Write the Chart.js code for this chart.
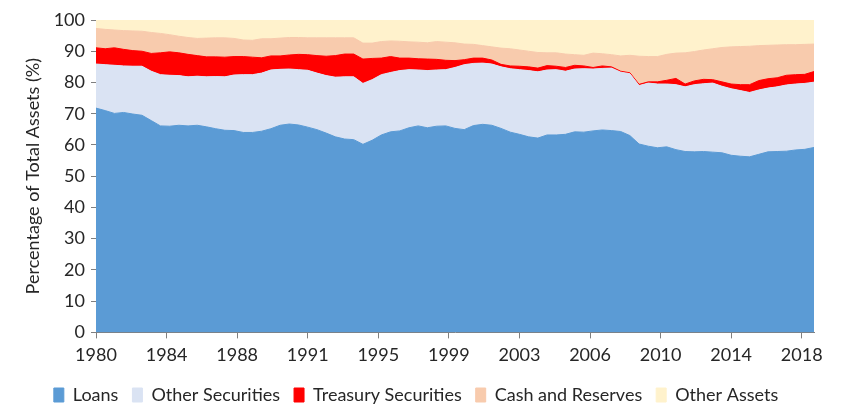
<!DOCTYPE html>
<html>
<head>
<meta charset="utf-8">
<script src="https://cdn.jsdelivr.net/npm/chart.js@4/dist/chart.umd.min.js"></script>
<style>
  html, body { margin: 0; padding: 0; background: #fff; }
  #wrap { width: 850px; height: 419px; }
</style>
</head>
<body>
<div id="wrap"><canvas id="chart" width="850" height="419"></canvas></div>
<script>
// half-year observations, 1980 to 2019 (share of total assets, %)
const years = [1980, 1980.5, 1981, 1981.5, 1982, 1982.5, 1983, 1983.5, 1984, 1984.5,
  1985, 1985.5, 1986, 1986.5, 1987, 1987.5, 1988, 1988.5, 1989, 1989.5,
  1990, 1990.5, 1991, 1991.5, 1992, 1992.5, 1993, 1993.5, 1994, 1994.5,
  1995, 1995.5, 1996, 1996.5, 1997, 1997.5, 1998, 1998.5, 1999, 1999.5,
  2000, 2000.5, 2001, 2001.5, 2002, 2002.5, 2003, 2003.5, 2004, 2004.5,
  2005, 2005.5, 2006, 2006.5, 2007, 2007.5, 2008, 2008.5, 2009, 2009.5,
  2010, 2010.5, 2011, 2011.5, 2012, 2012.5, 2013, 2013.5, 2014, 2014.5,
  2015, 2015.5, 2016, 2016.5, 2017, 2017.5, 2018, 2018.5, 2019];

const loans = [71.8, 71.0, 70.1, 70.4, 69.9, 69.5, 67.8, 66.1, 66.0, 66.3,
  66.1, 66.3, 65.8, 65.2, 64.7, 64.6, 64.0, 64.0, 64.4, 65.2,
  66.3, 66.7, 66.4, 65.7, 64.9, 63.8, 62.6, 61.9, 61.7, 60.2,
  61.5, 63.2, 64.2, 64.5, 65.5, 66.1, 65.5, 66.0, 66.1, 65.3,
  64.9, 66.2, 66.6, 66.3, 65.3, 64.1, 63.4, 62.6, 62.2, 63.2,
  63.2, 63.4, 64.2, 64.1, 64.5, 64.8, 64.6, 64.3, 63.0, 60.3,
  59.6, 59.1, 59.4, 58.5, 57.9, 57.8, 57.9, 57.7, 57.5, 56.7,
  56.4, 56.2, 57.0, 57.8, 57.9, 58.0, 58.4, 58.6, 59.2];

const otherSecurities = [14.1, 14.7, 15.4, 14.9, 15.3, 15.7, 15.8, 16.4, 16.3, 15.9,
  15.7, 15.7, 16.0, 16.7, 17.1, 17.8, 18.5, 18.5, 18.6, 18.8,
  17.9, 17.6, 17.7, 18.2, 18.1, 18.4, 19.1, 19.9, 20.1, 19.5,
  19.4, 19.3, 19.0, 19.3, 18.6, 17.9, 18.3, 18.0, 18.0, 19.5,
  20.8, 19.9, 19.6, 19.6, 19.7, 20.3, 20.7, 21.2, 21.2, 20.8,
  20.9, 20.2, 20.1, 20.3, 19.8, 19.7, 20.0, 19.0, 19.8, 18.7,
  20.2, 20.4, 20.1, 20.8, 20.7, 21.5, 21.7, 22.1, 21.3, 21.3,
  21.0, 20.6, 20.6, 20.4, 20.7, 21.2, 21.1, 21.1, 20.9];

const treasury = [5.2, 5.1, 5.6, 5.3, 5.0, 4.8, 5.7, 7.0, 7.5, 7.3,
  7.2, 6.6, 6.4, 6.3, 6.3, 5.9, 5.8, 5.6, 4.9, 4.5,
  4.3, 4.5, 4.9, 5.0, 5.6, 6.2, 6.9, 7.3, 7.3, 7.8,
  6.8, 5.3, 5.1, 4.0, 3.7, 3.6, 3.7, 3.4, 3.0, 2.2,
  1.6, 1.7, 1.6, 1.3, 0.8, 0.9, 1.1, 1.2, 1.2, 1.4,
  1.1, 1.2, 1.2, 0.9, 0.5, 0.8, 0.4, 0.3, 0.3, 0.4,
  0.4, 0.7, 1.2, 2.0, 0.9, 1.2, 1.4, 1.1, 1.4, 1.5,
  1.9, 2.5, 3.0, 3.0, 2.9, 3.1, 3.0, 2.9, 3.4];

const cashReserves = [6.2, 6.2, 5.7, 6.0, 6.3, 6.4, 6.7, 6.2, 5.5, 5.3,
  5.4, 5.5, 6.0, 6.1, 6.2, 5.8, 5.3, 5.4, 6.1, 5.5,
  5.7, 5.6, 5.4, 5.4, 5.7, 5.9, 5.7, 5.2, 5.2, 5.1,
  4.9, 5.3, 5.0, 5.4, 5.2, 5.3, 5.2, 5.7, 5.8, 5.7,
  5.0, 4.4, 4.0, 4.2, 5.2, 5.5, 5.2, 5.0, 5.0, 4.1,
  4.3, 4.3, 3.4, 3.4, 4.6, 3.9, 3.9, 4.9, 5.6, 9.0,
  8.1, 8.1, 8.3, 8.1, 10.0, 9.4, 9.4, 9.9, 11.0, 11.9,
  12.2, 12.3, 11.2, 10.7, 10.5, 9.8, 9.6, 9.6, 8.8];

const otherAssets = [2.7, 3.0, 3.2, 3.4, 3.5, 3.6, 4.0, 4.3, 4.7, 5.2,
  5.6, 5.9, 5.8, 5.7, 5.7, 5.9, 6.4, 6.5, 6.0, 6.0,
  5.8, 5.6, 5.6, 5.7, 5.7, 5.7, 5.7, 5.7, 5.7, 7.4,
  7.4, 6.9, 6.7, 6.8, 7.0, 7.1, 7.3, 6.9, 7.1, 7.3,
  7.7, 7.8, 8.2, 8.6, 9.0, 9.2, 9.6, 10.0, 10.4, 10.5,
  10.5, 10.9, 11.1, 11.3, 10.6, 10.8, 11.1, 11.5, 11.3, 11.6,
  11.7, 11.7, 11.0, 10.6, 10.5, 10.1, 9.6, 9.2, 8.8, 8.6,
  8.5, 8.4, 8.2, 8.1, 8.0, 7.9, 7.9, 7.8, 7.7];

const tickLabels = ['1980', '1984', '1988', '1991', '1995', '1999', '2003', '2006', '2010', '2014', '2018'];
const tickStep = 46 / 12; // years between labelled ticks

const FONT = 'Lato, "Noto Sans", sans-serif';
const TEXT = '#262626';
const AXIS = '#7f7f7f';

function series(label, values, color, fill) {
  return {
    label: label,
    data: years.map((x, i) => ({ x: x, y: values[i] })),
    backgroundColor: color,
    borderColor: color,
    borderWidth: 1,
    pointRadius: 0,
    pointHoverRadius: 0,
    tension: 0,
    fill: fill,
  };
}

new Chart(document.getElementById('chart').getContext('2d'), {
  type: 'line',
  data: {
    datasets: [
      series('Loans', loans, '#5b9bd5', 'origin'),
      series('Other Securities', otherSecurities, '#dae3f3', '-1'),
      series('Treasury Securities', treasury, '#ff0000', '-1'),
      series('Cash and Reserves', cashReserves, '#f8cbad', '-1'),
      series('Other Assets', otherAssets, '#fff2cc', '-1'),
    ],
  },
  options: {
    responsive: false,
    animation: false,
    layout: { padding: { top: 20, right: 36, bottom: 5, left: 18 } },
    plugins: {
      tooltip: { enabled: false },
      legend: {
        position: 'bottom',
        labels: {
          font: { family: FONT, size: 18 },
          color: TEXT,
          boxWidth: 10,
          boxHeight: 14,
          padding: 14,
        },
      },
    },
    scales: {
      x: {
        type: 'linear',
        min: years[0],
        max: years[years.length - 1],
        afterBuildTicks: (axis) => {
          axis.ticks = tickLabels.map((t, i) => ({ value: years[0] + i * tickStep }));
        },
        ticks: {
          callback: (value, index) => tickLabels[index],
          font: { family: FONT, size: 18 },
          color: TEXT,
          maxRotation: 0,
          autoSkip: false,
          padding: 6,
        },
        grid: { drawOnChartArea: false, tickLength: 6, tickColor: AXIS, color: AXIS },
        border: { color: AXIS, width: 1 },
      },
      y: {
        stacked: true,
        min: 0,
        max: 100,
        afterFit: (axis) => { axis.width = 78; },
        ticks: {
          stepSize: 10,
          font: { family: FONT, size: 18 },
          color: TEXT,
          padding: 6,
        },
        grid: {
          color: (ctx) => (ctx.tick && ctx.tick.value === 100 ? '#d9d9d9' : 'rgba(0,0,0,0)'),
          tickColor: AXIS,
          tickLength: 5,
        },
        border: { color: AXIS, width: 1 },
        title: {
          display: true,
          text: 'Percentage of Total Assets (%)',
          font: { family: FONT, size: 18 },
          color: TEXT,
          padding: { top: 4, bottom: 4 },
        },
      },
    },
  },
});
</script>
</body>
</html>
